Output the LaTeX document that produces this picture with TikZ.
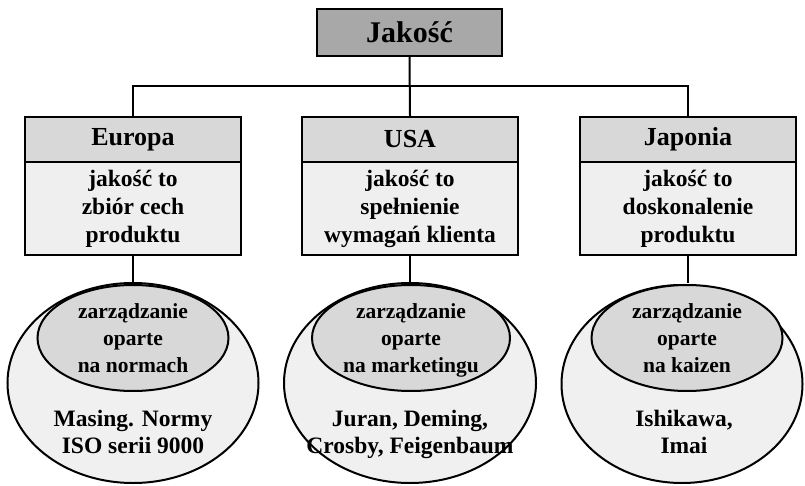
\documentclass[tikz,border=0pt]{standalone}
\usepackage{fontspec}
\setmainfont{Liberation Serif}
\usetikzlibrary{shapes.geometric}
\definecolor{topgray}{RGB}{168,168,168}
\definecolor{headgray}{RGB}{216,216,216}
\definecolor{bodygray}{RGB}{239,239,239}
\definecolor{innergray}{RGB}{216,216,216}
\definecolor{outergray}{RGB}{240,240,240}
\tikzset{
  topbox/.style={draw, line width=2.4pt, fill=topgray, minimum width=185pt, minimum height=47pt, inner sep=0pt,
    font=\fontsize{30}{32}\selectfont\bfseries},
  headbox/.style={draw, line width=2.4pt, fill=headgray, minimum width=216pt, minimum height=45pt, inner sep=0pt,
    font=\fontsize{26}{28}\selectfont\bfseries},
  bodybox/.style={draw, line width=2.4pt, fill=bodygray, minimum width=216pt, minimum height=93pt, inner sep=0pt,
    align=center, font=\fontsize{23.5}{28}\selectfont\bfseries},
  outerell/.style={draw, ellipse, line width=2pt, fill=outergray, inner sep=0pt},
  innerell/.style={draw, ellipse, line width=2pt, fill=innergray, inner sep=0pt},
  innertxt/.style={align=center, inner sep=0pt, font=\fontsize{21.5}{27}\selectfont\bfseries},
  outertxt/.style={align=center, inner sep=0pt, font=\fontsize{23.5}{27}\selectfont\bfseries},
  conn/.style={line width=2pt}
}
\begin{document}
\begin{tikzpicture}[x=1pt,y=-1pt]
\useasboundingbox (0,0) rectangle (805,486);
% top
\node[topbox] (jak) at (409.5,32.5) {Jakość};
% boxes
\node[headbox] (eurh) at (133,139.5) {Europa};
\node[bodybox] (eurb) at (133,208.5) {jakość to\\zbiór cech\\produktu};
\node[headbox] (usah) at (410,139.5) {USA};
\node[bodybox] (usab) at (410,208.5) {jakość to\\spełnienie\\wymagań klienta};
\node[headbox] (japh) at (688,139.5) {Japonia};
\node[bodybox] (japb) at (688,208.5) {jakość to\\doskonalenie\\produktu};
% connectors
\coordinate (bus) at (410,86);
\draw[conn] (jak.south) -- (usah.north);
\draw[conn] (eurh.north) -- (eurh.north |- bus) -- (japh.north |- bus) -- (japh.north);
% ellipses
\node[outerell, minimum width=251pt, minimum height=200pt] (eurout) at (133,383) {};
\node[innerell, minimum width=191pt, minimum height=106pt] (eurin) at (133,338) {};
\node[outerell, minimum width=252pt, minimum height=200pt] (usaout) at (410,383) {};
\node[innerell, minimum width=198pt, minimum height=106pt] (usain) at (411,338) {};
\node[outerell, minimum width=241pt, minimum height=198pt] (japout) at (682,384) {};
\node[innerell, minimum width=191pt, minimum height=106pt] (japin) at (687,338) {};
\draw[conn] (eurb.south) -- (eurb.south |- eurout.north);
\draw[conn] (usab.south) -- (usab.south |- usaout.north);
\draw[conn] (japb.south) -- ([yshift=1pt]japb.south |- japout.north);
% texts
\node[innertxt] (eurit) at (133,338) {zarządzanie\\oparte\\na normach};
\node[outertxt] (eurot) at (133,431.5) {Masing. Normy\\ISO serii 9000};
\node[innertxt] (usait) at (411,340) {zarządzanie\\oparte\\na marketingu};
\node[outertxt] (usaot) at (410,434) {Juran, Deming,\\Crosby, Feigenbaum};
\node[innertxt] (japit) at (687,338) {zarządzanie\\oparte\\na kaizen};
\node[outertxt] (japot) at (684,431.5) {Ishikawa,\\Imai};
\end{tikzpicture}
\end{document}
